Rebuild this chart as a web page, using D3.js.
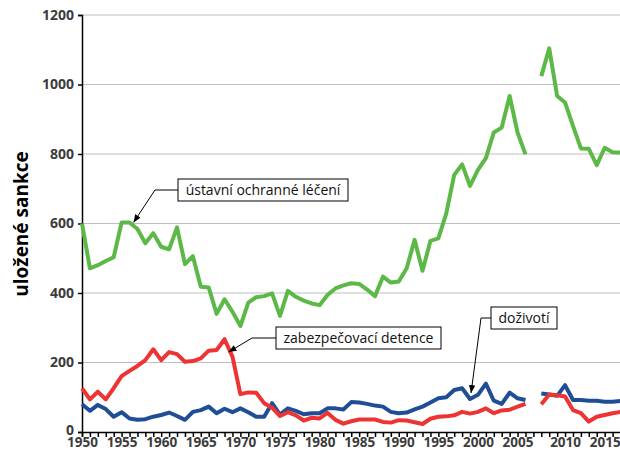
<!DOCTYPE html>
<html>
<head>
<meta charset="utf-8">
<script src="https://cdn.jsdelivr.net/npm/d3@7"></script>
<style>
  body { margin: 0; background: #fff; }
  svg { display: block; font-family: "Open Sans", "DejaVu Sans", sans-serif; }
</style>
</head>
<body>
<div id="chart"></div>
<script>
// categories: 1950-2006, an empty separator, 2007-2017
const yearsA = d3.range(1950, 2007);
const yearsB = d3.range(2007, 2018);
const categories = yearsA.map(String).concat(["gap"], yearsB.map(String));

// ustavni ochranne leceni
const ochranne = [600, 471, 480, 492, 503, 603, 603, 584, 543, 572,
  533, 526, 589, 483, 506, 418, 416, 340, 382, 346,
  305, 372, 388, 391, 399, 334, 406, 389, 378, 370,
  365, 394, 413, 422, 428, 426, 410, 391, 447, 430,
  433, 471, 553, 464, 550, 557, 629, 740, 770, 708,
  754, 788, 862, 876, 967, 862, 799,
  null,
  1024, 1104, 967, 948, 881, 816, 815, 768, 818, 805, 804];

// zabezpecovaci detence
const detence = [126, 94, 116, 94, 126, 161, 176, 190, 207, 238,
  207, 230, 224, 202, 204, 212, 234, 236, 267, 217,
  109, 114, 113, 83, 70, 46, 57, 48, 33, 41,
  39, 55, 35, 24, 31, 36, 36, 36, 29, 27,
  34, 33, 28, 23, 38, 44, 45, 48, 58, 53,
  58, 68, 54, 62, 64, 73, 81,
  null,
  80, 108, 106, 102, 63, 54, 30, 44, 49, 54, 58];

// dozivoti
const dozivoti = [80, 61, 78, 66, 44, 57, 39, 35, 37, 44,
  49, 56, 46, 35, 58, 63, 73, 54, 67, 57,
  68, 57, 44, 44, 83, 50, 68, 61, 51, 54,
  54, 68, 68, 65, 86, 85, 81, 76, 73, 58,
  54, 56, 65, 73, 85, 97, 100, 121, 126, 95,
  107, 139, 90, 81, 113, 97, 92,
  null,
  111, 108, 104, 135, 92, 92, 90, 90, 87, 87, 89];

const yTicks = [0, 200, 400, 600, 800, 1000, 1200];

const width = 620, height = 451;
const svg = d3.select("#chart").append("svg")
  .attr("width", width)
  .attr("height", height);

const x = d3.scalePoint()
  .domain(categories)
  .range([82, 620.5]);

const y = d3.scaleLinear()
  .domain([0, 1200])
  .range([432, 15]);

// gridlines
svg.append("g")
  .selectAll("line")
  .data(yTicks.filter(d => d > 0))
  .join("line")
  .attr("x1", 82).attr("x2", width)
  .attr("y1", d => y(d)).attr("y2", d => y(d))
  .attr("stroke", "#bfbfbf")
  .attr("stroke-width", 1);

// y axis
const yAxis = svg.append("g")
  .attr("transform", "translate(82,0)")
  .call(d3.axisLeft(y).tickValues(yTicks).tickSize(4).tickPadding(4).tickFormat(d3.format("d")));
yAxis.select(".domain").attr("stroke", "#000").attr("stroke-width", 1.5);
yAxis.selectAll(".tick line").attr("stroke", "#000").attr("stroke-width", 1.5);
yAxis.selectAll("text")
  .attr("font-size", 14).attr("font-weight", "bold")
  .attr("font-family", "'Open Sans', sans-serif")
  .attr("fill", "#3c3c3c");
// lift the "0" a little so it clears the 1950 label
yAxis.selectAll(".tick text").filter(d => d === 0).attr("dy", "0.2em");

// x axis
const xAxis = svg.append("g")
  .attr("transform", "translate(0,432)")
  .call(d3.axisBottom(x).tickSizeOuter(0).tickSize(5).tickPadding(1)
    .tickFormat(d => (d !== "gap" && +d % 5 === 0) ? d : ""));
xAxis.select(".domain").attr("stroke", "#000").attr("stroke-width", 1.5);
xAxis.selectAll(".tick line").attr("stroke", "#000").attr("stroke-width", 1.5);
xAxis.selectAll("text")
  .attr("font-size", 13.5).attr("font-weight", "bold")
  .attr("font-family", "'Open Sans', sans-serif")
  .attr("dy", "0.66em")
  .attr("fill", "#3c3c3c");

// y axis title
svg.append("text")
  .attr("transform", "translate(28,224) rotate(-90)")
  .attr("text-anchor", "middle")
  .attr("font-size", 19)
  .attr("font-weight", "bold")
  .attr("fill", "#000")
  .text("uložené sankce");

// lines
const line = d3.line()
  .defined(d => d.v !== null)
  .x(d => x(d.c))
  .y(d => y(d.v));

const series = [
  { values: dozivoti, color: "#1f4e96" },
  { values: detence, color: "#ee3432" },
  { values: ochranne, color: "#5cb947" }
];

svg.append("g")
  .selectAll("path")
  .data(series)
  .join("path")
  .attr("fill", "none")
  .attr("stroke", d => d.color)
  .attr("stroke-width", 4)
  .attr("stroke-linejoin", "round")
  .attr("d", d => line(d.values.map((v, i) => ({ c: categories[i], v: v }))));

// annotations
svg.append("defs").append("marker")
  .attr("id", "arrow")
  .attr("viewBox", "0 -4 10 8")
  .attr("refX", 10)
  .attr("refY", 0)
  .attr("markerWidth", 8)
  .attr("markerHeight", 7)
  .attr("markerUnits", "userSpaceOnUse")
  .attr("orient", "auto")
  .append("path")
  .attr("d", "M0,-4L10,0L0,4Z")
  .attr("fill", "#000");

const notes = [
  { text: "ústavní ochranné léčení", bx: 178, by: 179, bw: 170, bh: 22,
    elbow: 155, tip: [x("1956") + 4, y(600) - 1] },
  { text: "zabezpečovací detence", bx: 276, by: 327, bw: 165, bh: 22,
    elbow: 252, tip: [x("1968") + 4, y(230)] },
  { text: "doživotí", bx: 491, by: 307, bw: 66, bh: 22,
    elbow: 481, tip: [x("1999") + 1, y(112)] }
];

const ann = svg.append("g");
notes.forEach(n => {
  const midY = n.by + n.bh / 2;
  ann.append("polyline")
    .attr("points", [[n.bx, midY], [n.elbow, midY], n.tip].map(p => p.join(",")).join(" "))
    .attr("fill", "none")
    .attr("stroke", "#000")
    .attr("stroke-width", 1)
    .attr("marker-end", "url(#arrow)");
  ann.append("rect")
    .attr("x", n.bx).attr("y", n.by)
    .attr("width", n.bw).attr("height", n.bh)
    .attr("fill", "#fff")
    .attr("stroke", "#000")
    .attr("stroke-width", 1);
  ann.append("text")
    .attr("x", n.bx + n.bw / 2)
    .attr("y", midY + 5)
    .attr("text-anchor", "middle")
    .attr("font-size", 14)
    .attr("fill", "#111")
    .text(n.text);
});
</script>
</body>
</html>
